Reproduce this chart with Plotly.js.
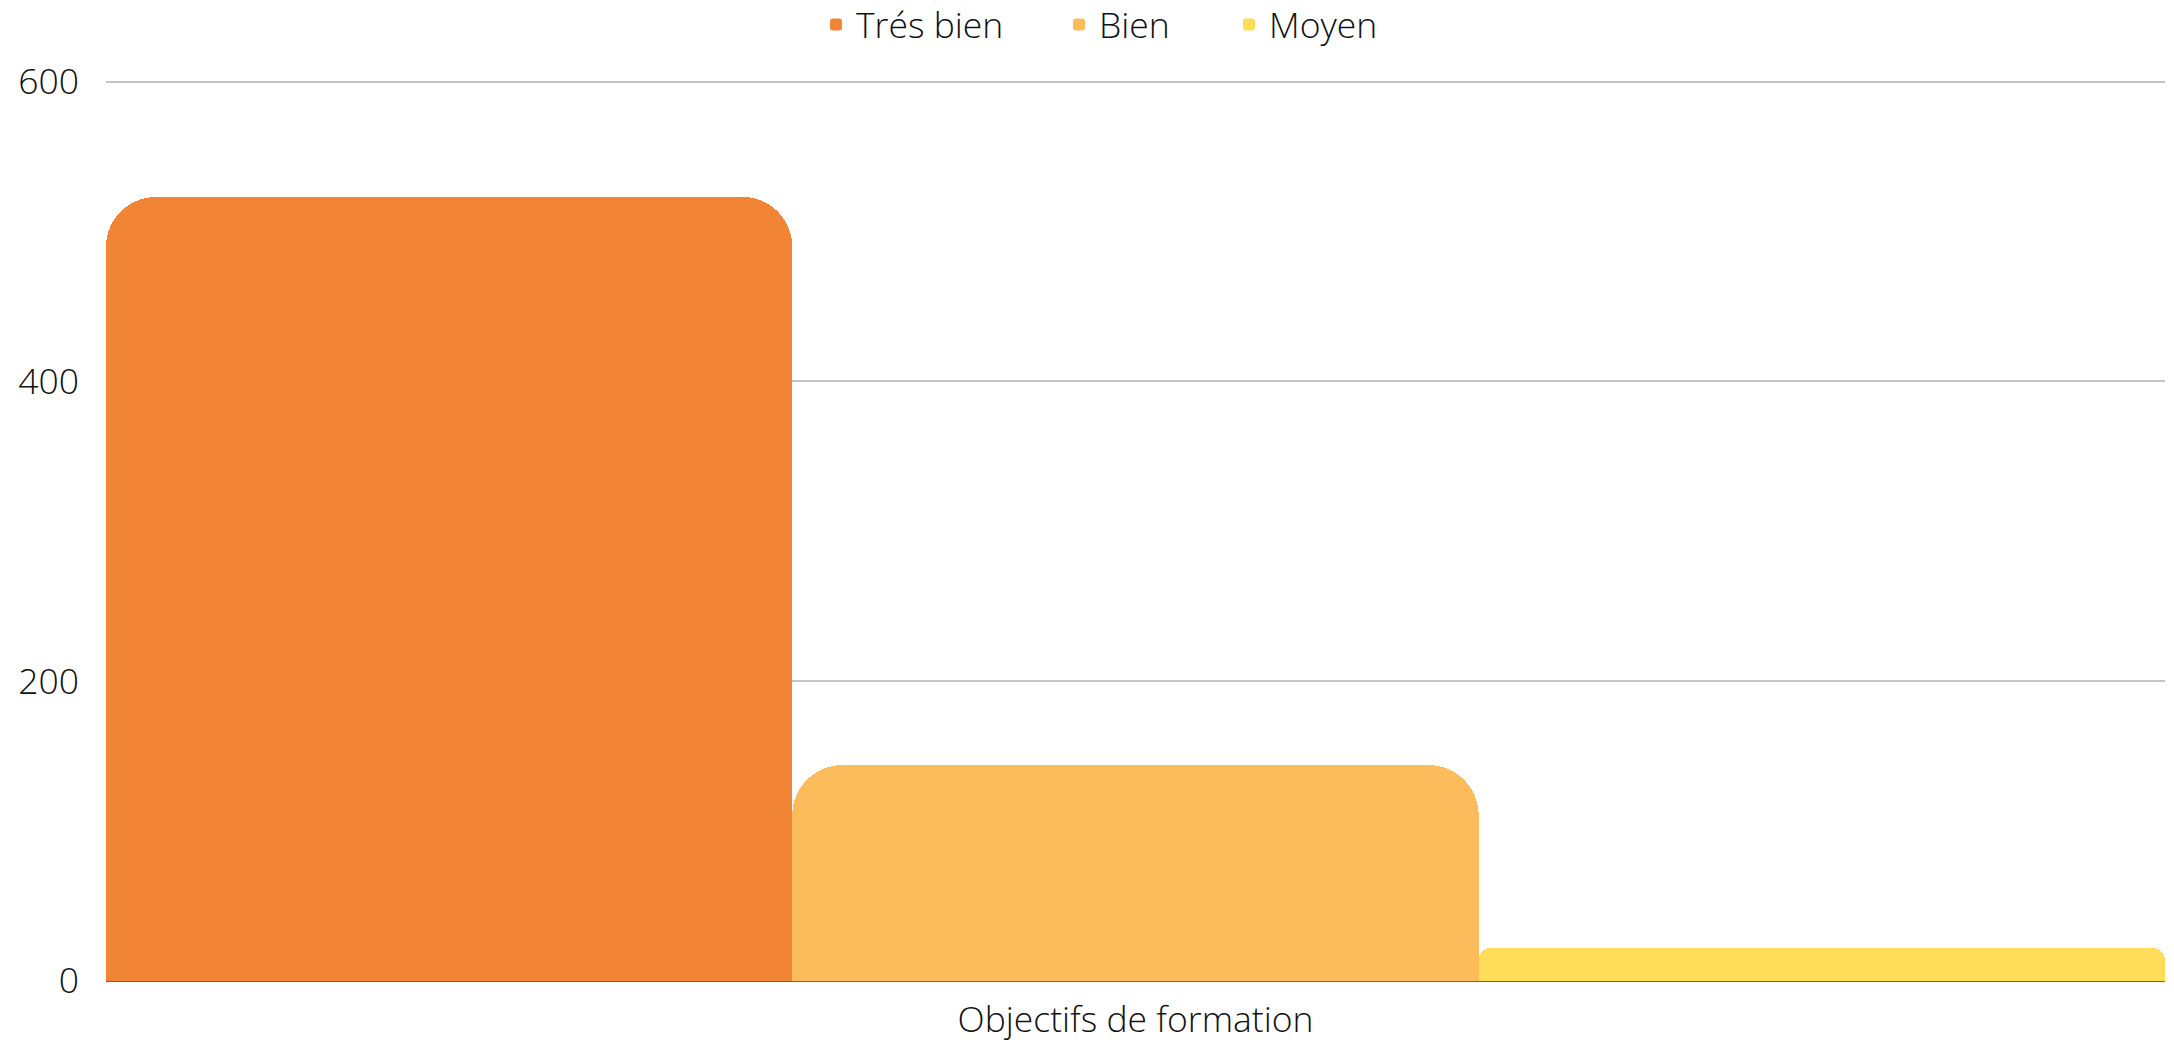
<!DOCTYPE html>
<html>
<head>
<meta charset="utf-8">
<script src="https://cdn.plot.ly/plotly-3.0.1.min.js"></script>
<style>
  html, body { margin: 0; padding: 0; background: #fff; }
  #chart { width: 2174px; height: 1046px; }
</style>
</head>
<body>
<div id="chart"></div>
<script>
// Données
const categories = ['Objectifs de formation'];
const seriesNames = ['Trés bien', 'Bien', 'Moyen'];
const seriesValues = [523, 144, 22];
const seriesColors = ['#f28535', '#fdbc5b', '#ffdd59'];
const legendIds = ['legend', 'legend2', 'legend3'];

const fontFamily = '"Open Sans", "Noto Sans", sans-serif';
const textFont = { family: fontFamily, size: 35.5, color: '#111111', weight: 300 };

const traces = seriesNames.map((name, i) => ({
  type: 'bar',
  name: name,
  x: categories,
  y: [seriesValues[i]],
  legend: legendIds[i],
  marker: {
    color: seriesColors[i],
    line: { width: 0 },
    cornerradius: i === 2 ? 12 : 50
  },
  hoverinfo: 'name+y'
}));

// une légende par série pour placer chaque entrée comme sur l'original
const legendX = [816, 1059, 1229];
function legendAt(px) {
  return {
    orientation: 'h',
    xref: 'container',
    yref: 'container',
    x: px / 2174,
    xanchor: 'left',
    y: 1 - 25 / 1046,
    yanchor: 'middle',
    font: textFont,
    bgcolor: 'rgba(0,0,0,0)',
    itemclick: false
  };
}

const layout = {
  width: 2174,
  height: 1046,
  paper_bgcolor: '#ffffff',
  plot_bgcolor: '#ffffff',
  font: textFont,
  margin: { l: 106, r: 9, t: 77, b: 65 },
  barmode: 'group',
  bargap: 0,
  bargroupgap: 0,
  showlegend: true,
  legend: legendAt(legendX[0]),
  legend2: legendAt(legendX[1]),
  legend3: legendAt(legendX[2]),
  xaxis: {
    type: 'category',
    showgrid: false,
    zeroline: false,
    showline: false,
    ticks: '',
    tickfont: textFont,
    ticklabelstandoff: 14
  },
  yaxis: {
    // un peu de marge au-dessus de 600 pour que la ligne de grille reste visible
    range: [0, 603],
    tickvals: [0, 200, 400, 600],
    showgrid: true,
    gridcolor: '#c4c4c4',
    gridwidth: 2,
    zeroline: true,
    zerolinecolor: '#666666',
    zerolinewidth: 2,
    showline: false,
    ticks: '',
    tickfont: textFont,
    ticklabelstandoff: 26
  }
};

Plotly.newPlot('chart', traces, layout, { displayModeBar: false, staticPlot: true });
</script>
</body>
</html>
